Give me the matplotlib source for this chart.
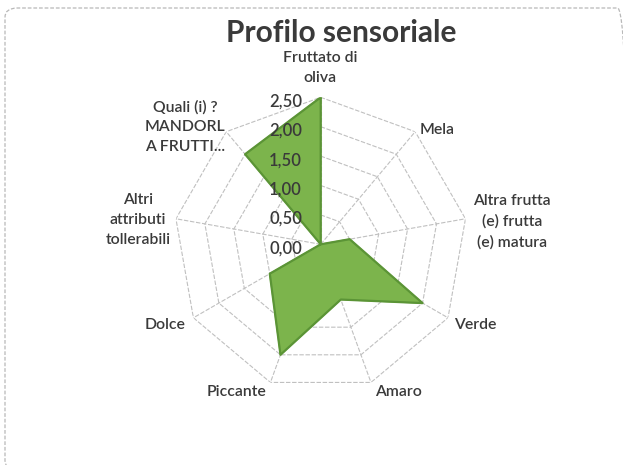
import numpy as np
import matplotlib
matplotlib.use("Agg")
import matplotlib.pyplot as plt
from matplotlib.patches import FancyBboxPatch

plt.rcParams['font.family'] = ['Lato', 'DejaVu Sans']

title = "Profilo sensoriale"
categories = ["Fruttato di\noliva", "Mela", "Altra frutta\n(e) frutta\n(e) matura",
              "Verde", "Amaro", "Piccante", "Dolce",
              "Altri\nattributi\ntollerabili", "Quali (i) ?\nMANDORL\nA FRUTTI..."]
values = [2.5, 0.0, 0.5, 2.0, 1.0, 2.0, 1.0, 0.0, 2.0]
ring_levels = [0.5, 1.0, 1.5, 2.0, 2.5]
tick_labels = ["0,00", "0,50", "1,00", "1,50", "2,00", "2,50"]
tick_values = [0.0, 0.5, 1.0, 1.5, 2.0, 2.5]

W, H = 623, 465
fig = plt.figure(figsize=(W / 100, H / 100), dpi=100)
fig.patch.set_facecolor('white')

# chart border (rounded, partly cut off on the right/bottom)
border = FancyBboxPatch((5 / W, 1 - 470 / H), 625 / W, 462 / H,
                        boxstyle="round,pad=0,rounding_size=0.02",
                        transform=fig.transFigure, fill=False,
                        edgecolor='#b8b8b8', lw=0.9, linestyle=(0, (3, 1.5)))
fig.patches.append(border)

cx, cy, R = 320.7, 244.3, 147.0
ax = fig.add_axes([(cx - R) / W, (H - cy - R) / H, 2 * R / W, 2 * R / H],
                  projection='polar')
ax.set_theta_zero_location('N')
ax.set_theta_direction(-1)
ax.set_ylim(0, 2.5)
ax.set_facecolor('none')
ax.grid(False)
ax.spines['polar'].set_visible(False)
ax.set_xticks([])
ax.set_yticks([])

n = len(categories)
theta = np.arange(n) * 2 * np.pi / n
theta_c = np.append(theta, theta[0])

grid_kw = dict(color='#c0c0c0', lw=0.8, linestyle=(0, (4, 1.5)), zorder=1)
for lv in ring_levels:
    ax.plot(theta_c, [lv] * (n + 1), **grid_kw)
for t in theta:
    ax.plot([t, t], [0, 2.5], **grid_kw)

vals_c = np.append(values, values[0])
ax.fill(theta_c, vals_c, color='#7cb44c', alpha=1.0, zorder=2)
ax.plot(theta_c, vals_c, color='#5b9436', lw=1.6, zorder=3)

# radial tick labels
for v, lab in zip(tick_values, tick_labels):
    y = cy - v / 2.5 * R + 4
    fig.text(302 / W, 1 - y / H, lab, ha='right', va='center',
             fontsize=12, fontweight='semibold', color='#3a3a3a')

# category labels (pixel centers)
label_pos = [(320, 68), (437, 130), (512, 222), (475, 325), (398, 392),
             (236, 392), (165, 325), (138, 220), (185, 127)]
for lab, (x, y) in zip(categories, label_pos):
    fig.text(x / W, 1 - y / H, lab, ha='center', va='center',
             fontsize=11.3, fontweight='semibold', color='#3a3a3a',
             linespacing=1.55)

fig.text(341 / W, 1 - 33 / H, title, ha='center', va='center',
         fontsize=21.5, fontweight='bold', color='#3a3a3a')

fig.savefig('out.png', dpi=100)
